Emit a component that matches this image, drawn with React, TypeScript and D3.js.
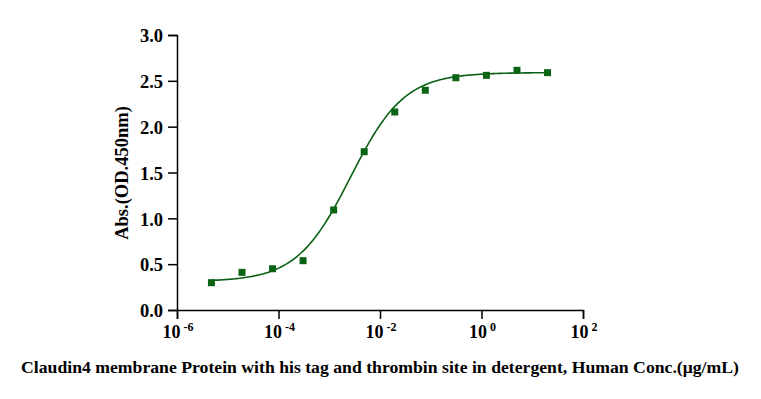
import { useEffect, useRef } from 'react'
import * as d3 from 'd3'

// concentrations (µg/mL), 4-fold dilution series
const concentrations = [20, 5, 1.25, 0.3125, 0.078125, 0.01953, 0.004883, 0.001221, 0.0003052, 0.0000763, 0.0000191, 0.00000477]
const absorbance = [2.589, 2.615, 2.56, 2.534, 2.397, 2.16, 1.727, 1.091, 0.538, 0.45, 0.411, 0.298]

// fitted 4PL parameters
const fitBottom = 0.31
const fitTop = 2.59
const fitLogEC50 = -2.58
const fitHill = 0.82

const yTicks = [0, 0.5, 1, 1.5, 2, 2.5, 3]
const xTickExps = [-6, -4, -2, 0, 2]

const width = 761
const height = 399

export default function App() {
  const svgRef = useRef<SVGSVGElement>(null)

  useEffect(() => {
    if (!svgRef.current) return
    const svg = d3.select(svgRef.current)
    svg.selectAll('*').remove()

    const font = '"Liberation Serif", "Times New Roman", serif'
    const green = '#0b6114'

    const x = d3.scaleLog().domain([1e-6, 1e2]).range([177, 583])
    const y = d3.scaleLinear().domain([0, 3]).range([310, 35])

    // axes
    const yAxis = svg.append('g').attr('transform', `translate(${x.range()[0]},0)`)
      .call(d3.axisLeft(y).tickValues(yTicks).tickSize(9).tickPadding(5).tickFormat(d => d3.format('.1f')(d as number)))
    const xAxis = svg.append('g').attr('transform', `translate(0,${y(0)})`)
      .call(d3.axisBottom(x).tickValues(xTickExps.map(e => Math.pow(10, e))).tickSize(9).tickFormat(() => ''))

    for (const ax of [yAxis, xAxis]) {
      ax.select('.domain').attr('stroke', '#000').attr('stroke-width', 1.5)
      ax.selectAll('.tick line').attr('stroke', '#000').attr('stroke-width', 1.5)
    }
    yAxis.selectAll('.tick text')
      .attr('fill', '#000')
      .attr('dy', '0.36em')
      .style('font-family', font)
      .style('font-weight', 'bold')
      .style('font-size', '18.5px')

    // x tick labels with superscripts
    xTickExps.forEach(e => {
      const t = svg.append('text')
        .attr('x', x(Math.pow(10, e)) + 1)
        .attr('y', 338)
        .attr('text-anchor', 'middle')
        .style('font-family', font)
        .style('font-weight', 'bold')
        .style('font-size', '18px')
        .attr('fill', '#000')
      t.append('tspan').text('10')
      t.append('tspan').attr('dy', -7).style('font-size', '12px').text(e < 0 ? ` -${-e}` : ` ${e}`)
    })

    // fitted curve
    const [lo, hi] = d3.extent(concentrations) as [number, number]
    const curvePts = d3.range(0, 201).map(i => {
      const lx = Math.log10(lo) + (Math.log10(hi) - Math.log10(lo)) * i / 200
      const v = fitBottom + (fitTop - fitBottom) / (1 + Math.pow(10, (fitLogEC50 - lx) * fitHill))
      return [Math.pow(10, lx), v] as [number, number]
    })
    svg.append('path')
      .datum(curvePts)
      .attr('fill', 'none')
      .attr('stroke', green)
      .attr('stroke-width', 1.6)
      .attr('d', d3.line<[number, number]>().x(d => x(d[0])).y(d => y(d[1])))

    // points
    const s = 7
    svg.selectAll('rect.pt')
      .data(concentrations.map((c, i) => [c, absorbance[i]]))
      .enter().append('rect')
      .attr('class', 'pt')
      .attr('x', d => x(d[0]) - s / 2)
      .attr('y', d => y(d[1]) - s / 2)
      .attr('width', s)
      .attr('height', s)
      .attr('fill', '#0a6414')

    // axis titles
    svg.append('text')
      .attr('transform', `translate(128,173) rotate(-90)`)
      .attr('text-anchor', 'middle')
      .style('font-family', font)
      .style('font-weight', 'bold')
      .style('font-size', '18.5px')
      .attr('fill', '#000')
      .text('Abs.(OD.450nm)')

    svg.append('text')
      .attr('x', 380)
      .attr('y', 373)
      .attr('text-anchor', 'middle')
      .style('font-family', font)
      .style('font-weight', 'bold')
      .style('font-size', '17.7px')
      .attr('fill', '#000')
      .text('Claudin4 membrane Protein with his tag and thrombin site in detergent, Human Conc.(μg/mL)')
  }, [])

  return (
    <svg ref={svgRef} width={width} height={height}
      style={{ position: 'absolute', left: 0, top: 0, background: '#fff' }} />
  )
}
